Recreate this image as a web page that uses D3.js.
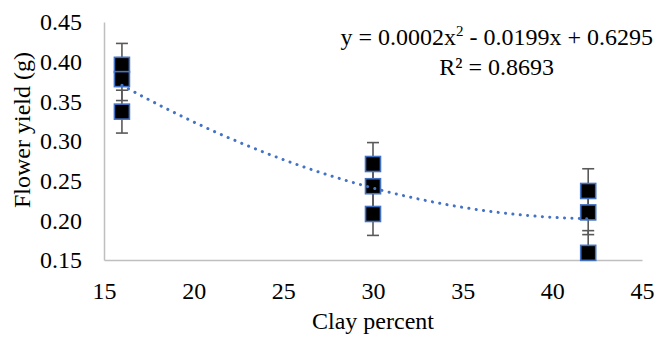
<!DOCTYPE html>
<html>
<head>
<meta charset="utf-8">
<script src="https://cdn.jsdelivr.net/npm/d3@7"></script>
<style>
  body { margin: 0; background: #fff; }
</style>
</head>
<body>
<div id="chart"></div>
<script>
// measured points (clay %, flower yield g, error)
const clay = [16, 16, 16, 30, 30, 30, 42, 42, 42];
const flowerYield = [0.396, 0.378, 0.337, 0.271, 0.243, 0.208, 0.237, 0.210, 0.159];
const yieldErr = [0.027, 0.027, 0.027, 0.027, 0.027, 0.027, 0.028, 0.028, 0.028];

const xTicks = [15, 20, 25, 30, 35, 40, 45];
const yTicks = [0.15, 0.20, 0.25, 0.30, 0.35, 0.40, 0.45];

const eqLine1 = ["y = 0.0002x", "2", " - 0.0199x + 0.6295"];
const eqLine2 = "R² = 0.8693";

const W = 655, H = 337;
const margin = {left: 104, right: 13, top: 22, bottom: 77};
const font = '"Liberation Serif", "Times New Roman", FreeSerif, serif';
const fontSize = 24;

const svg = d3.select("#chart").append("svg")
    .attr("width", W)
    .attr("height", H);

const x = d3.scaleLinear().domain([15, 45]).range([margin.left, W - margin.right]);
const y = d3.scaleLinear().domain([0.15, 0.45]).range([H - margin.bottom, margin.top]);

svg.append("clipPath").attr("id", "plot-clip")
    .append("rect")
    .attr("x", margin.left).attr("y", margin.top)
    .attr("width", W - margin.left - margin.right)
    .attr("height", H - margin.top - margin.bottom);

// axes
const xAxis = svg.append("g")
    .attr("transform", `translate(0,${H - margin.bottom})`)
    .call(d3.axisBottom(x).tickValues(xTicks).tickSize(0).tickPadding(22));
const yAxis = svg.append("g")
    .attr("transform", `translate(${margin.left},0)`)
    .call(d3.axisLeft(y).tickValues(yTicks).tickFormat(d3.format(".2f")).tickSize(0).tickPadding(22));

[xAxis, yAxis].forEach(g => {
    g.select(".domain").attr("stroke", "#bfbfbf").attr("stroke-width", 1.5);
    g.selectAll("text").attr("fill", "#000");
});

// least squares quadratic trend from the points
function quadFit(xs, ys) {
    let s = [0, 0, 0, 0, 0], t = [0, 0, 0];
    xs.forEach((xi, i) => {
        for (let k = 0; k < 5; k++) s[k] += Math.pow(xi, k);
        for (let k = 0; k < 3; k++) t[k] += ys[i] * Math.pow(xi, k);
    });
    const A = [[s[0], s[1], s[2], t[0]], [s[1], s[2], s[3], t[1]], [s[2], s[3], s[4], t[2]]];
    for (let i = 0; i < 3; i++) {
        for (let j = i + 1; j < 3; j++) {
            const f = A[j][i] / A[i][i];
            for (let k = i; k < 4; k++) A[j][k] -= f * A[i][k];
        }
    }
    const c = [0, 0, 0];
    for (let i = 2; i >= 0; i--) {
        let v = A[i][3];
        for (let k = i + 1; k < 3; k++) v -= A[i][k] * c[k];
        c[i] = v / A[i][i];
    }
    return c;
}
const coef = quadFit(clay, flowerYield);
const trendX = d3.range(d3.min(clay), d3.max(clay) + 0.01, 0.25);

// error bars
const errG = svg.append("g").attr("clip-path", "url(#plot-clip)")
    .attr("stroke", "#595959").attr("stroke-width", 1.6);
clay.forEach((c, i) => {
    const cx = x(c), top = y(flowerYield[i] + yieldErr[i]), bot = y(flowerYield[i] - yieldErr[i]);
    errG.append("line").attr("x1", cx).attr("x2", cx).attr("y1", top).attr("y2", bot);
    errG.append("line").attr("x1", cx - 6).attr("x2", cx + 6).attr("y1", top).attr("y2", top);
    errG.append("line").attr("x1", cx - 6).attr("x2", cx + 6).attr("y1", bot).attr("y2", bot);
});

// markers
svg.append("g").selectAll("rect")
    .data(clay)
    .enter()
    .append("rect")
    .attr("x", d => x(d) - 7.5)
    .attr("y", (d, i) => y(flowerYield[i]) - 7.5)
    .attr("width", 15)
    .attr("height", 15)
    .attr("fill", "#000")
    .attr("stroke", "#4472c4")
    .attr("stroke-width", 1.6);

// trendline
svg.append("path")
    .datum(trendX)
    .attr("d", d3.line().x(d => x(d)).y(d => y(coef[0] + coef[1] * d + coef[2] * d * d)))
    .attr("fill", "none")
    .attr("stroke", "#4472c4")
    .attr("stroke-width", 3)
    .attr("stroke-linecap", "round")
    .attr("stroke-dasharray", "0.1 7.3");

// equation label
const eq = svg.append("text").attr("y", 45);
eq.append("tspan").text(eqLine1[0]);
eq.append("tspan").attr("dy", -9).text(eqLine1[1]);
eq.append("tspan").attr("dy", 9).text(eqLine1[2]);
const r2 = svg.append("text")
    .attr("y", 75)
    .attr("text-anchor", "middle")
    .text(eqLine2);

// axis titles
svg.append("text")
    .attr("x", (margin.left + W - margin.right) / 2).attr("y", 329)
    .attr("text-anchor", "middle")
    .text("Clay percent");
svg.append("text")
    .attr("transform", "translate(30,130) rotate(-90)")
    .attr("text-anchor", "middle")
    .text("Flower yield (g)");

// one font for every label
svg.selectAll("text")
    .style("font-family", font)
    .style("font-size", fontSize + "px");
eq.selectAll("tspan").filter((d, i) => i === 1).style("font-size", "15px");

// place equation so its right edge sits near the border, R² centred under it
const eqW = eq.node().getComputedTextLength();
eq.attr("x", 653 - eqW);
r2.attr("x", 653 - eqW / 2);
</script>
</body>
</html>
